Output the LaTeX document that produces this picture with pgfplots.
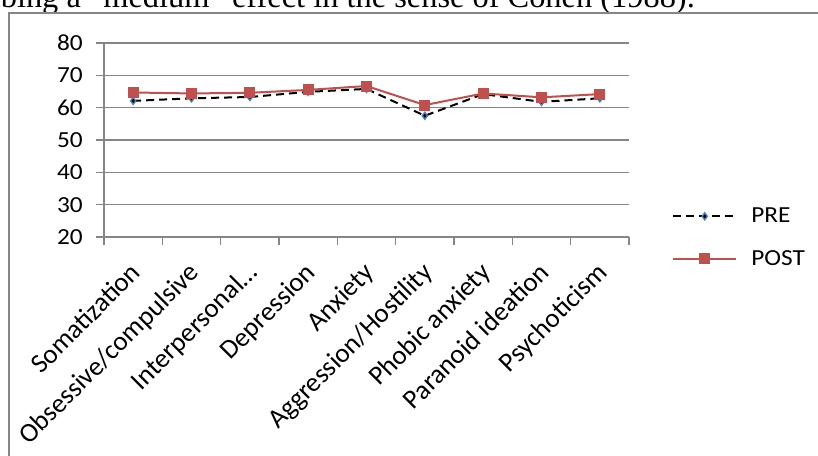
\documentclass[border=0pt]{standalone}
\usepackage{fontspec}
\setmainfont{Carlito}
\newfontfamily\widefont{Carlito}[FakeStretch=1.1]
\newfontfamily\bodyserif{Liberation Serif}
\usepackage{pgfplots}
\pgfplotsset{compat=1.18}
\definecolor{gridgray}{HTML}{868686}
\definecolor{postred}{HTML}{C0504D}
\definecolor{preblue}{HTML}{4F81BD}

\begin{document}
\begin{tikzpicture}
\path[use as bounding box, clip] (0pt,0pt) rectangle (818pt,-455pt);
% running text of the page, cut by the crop
\node[anchor=base east, font=\bodyserif\fontsize{32.4}{38}\selectfont, inner sep=0pt]
  at (695pt,-7pt) {describing a “medium” effect in the sense of Cohen (1988).};
% chart area border
\draw[gridgray, line width=1.2pt] (9pt,-470pt) -- (9pt,-13pt) -- (830pt,-13pt);
\begin{axis}[
    at={(104pt,-237pt)}, anchor=south west,
    scale only axis, width=525pt, height=194pt,
    xmin=0.5, xmax=9.5, ymin=20, ymax=80,
    ytick={20,30,...,80}, minor ytick={20,30,...,80},
    xtick={1,...,9}, minor xtick={0.5,1.5,...,9.5},
    xticklabels={Somatization,Obsessive/compulsive,Interpersonal\ldots,Depression,Anxiety,Aggression/Hostility,Phobic anxiety,Paranoid ideation,Psychoticism},
    major tick length=0pt, minor tick length=8pt, tick align=outside,
    axis x line*=bottom, axis y line*=left,
    axis line style={gridgray, line width=1.3pt},
    every tick/.style={gridgray, line width=1.3pt},
    ymajorgrids, major grid style={gridgray, line width=1.3pt},
    /pgf/number format/assume math mode=true,
    yticklabel style={font=\widefont\fontsize{23}{27}\selectfont, xshift=-17.7pt},
    xticklabel style={font=\fontsize{27}{32}\selectfont, inner sep=0pt,
        xshift=9pt, yshift=-37pt, rotate=45, anchor=base east},
    legend style={at={(1.082,0.16)}, anchor=north west, draw=none, fill=none,
        font=\widefont\fontsize{23}{27}\selectfont, row sep=22pt, column sep=12pt,
        inner sep=0pt},
    legend cell align=left,
    legend image code/.code={\draw[mark repeat=2, mark phase=2, #1]
        plot coordinates {(0pt,0pt) (31.5pt,0pt) (63pt,0pt)};},
]
\addplot[black, line width=2pt, dash pattern=on 8pt off 5pt,
    mark=diamond*, mark size=3.5pt,
    mark options={solid, fill=black, draw=preblue, line width=1.4pt}]
coordinates {
    (1,62.1) (2,62.9) (3,63.3) (4,64.9) (5,65.8)
    (6,57.5) (7,64.2) (8,61.8) (9,62.9)
};
\addlegendentry{PRE}
\addplot[postred, line width=2pt,
    mark=square*, mark size=4.5pt, mark options={solid, fill=postred}]
coordinates {
    (1,64.7) (2,64.4) (3,64.6) (4,65.5) (5,66.7)
    (6,60.8) (7,64.4) (8,63.2) (9,64.2)
};
\addlegendentry{POST}
\end{axis}
\end{tikzpicture}
\end{document}
